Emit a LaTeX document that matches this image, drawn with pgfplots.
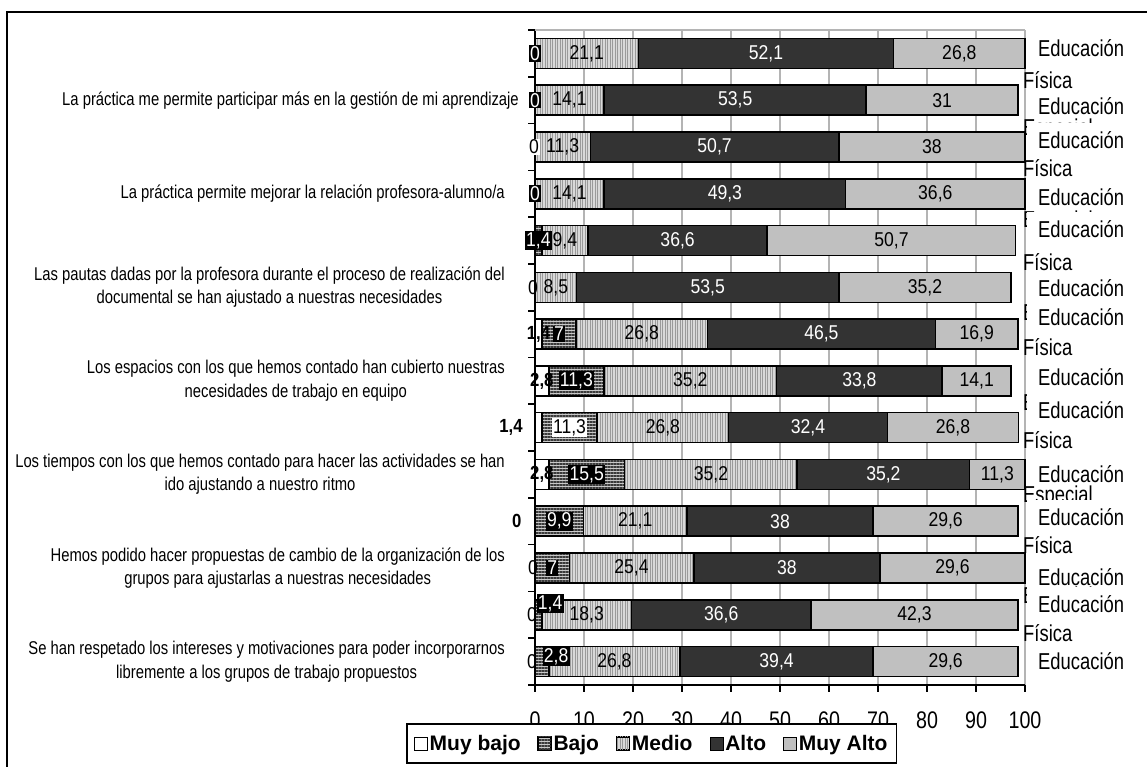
\documentclass[border=0pt]{standalone}
\usepackage{pgfplots}
\usepackage{pgfplotstable}
\pgfplotsset{compat=1.18}
\usetikzlibrary{patterns.meta}
\usepackage{fontspec}
\setmainfont{Liberation Sans}
\newfontfamily\condfont[FakeStretch=0.8]{Liberation Sans}
\newfontfamily\rightfont[FakeStretch=0.8]{Liberation Sans}
\newfontfamily\tickfont[FakeStretch=0.82]{Liberation Sans}
\newfontfamily\valfont[FakeStretch=0.88]{Liberation Sans}

\definecolor{alto}{HTML}{333333}
\definecolor{muyalto}{HTML}{C0C0C0}
\definecolor{gridgray}{HTML}{B4B4B4}
\definecolor{medfill}{HTML}{D9D9D9}
\definecolor{medline}{HTML}{9A9A9A}
\definecolor{bajfill}{HTML}{C8C8C8}
\definecolor{bajline}{HTML}{3A3A3A}

% percentages per row: Muy bajo, Bajo, Medio, Alto, Muy Alto (row 14 = top bar)
\pgfplotstableread{
y  mb   b    m    a    ma
14 0    0    21.1 52.1 26.8
13 0    0    14.1 53.5 31
12 0    0    11.3 50.7 38
11 0    0    14.1 49.3 36.6
10 0    1.4  9.4  36.6 50.7
9  0    0    8.5  53.5 35.2
8  1.4  7    26.8 46.5 16.9
7  2.8  11.3 35.2 33.8 14.1
6  1.4  11.3 26.8 32.4 26.8
5  2.8  15.5 35.2 35.2 11.3
4  0    9.9  21.1 38   29.6
3  0    7    25.4 38   29.6
2  0    1.4  18.3 36.6 42.3
1  0    2.8  26.8 39.4 29.6
}\datatable

\tikzset{
  vlab/.style={font=\valfont\fontsize{20}{20}\selectfont, inner sep=1.2pt},
  blk/.style={fill=black, text=white},
  wbx/.style={fill=white},
  wt/.style={text=white},
  bf/.style={font=\valfont\bfseries\fontsize{19}{19}\selectfont},
  stmt/.style={font=\condfont\fontsize{18.5}{23.5}\selectfont, align=center, anchor=east, inner sep=0pt},
  rlab/.style={font=\rightfont\fontsize{23}{23}\selectfont, inner sep=0pt, anchor=west},
}
% value label centred on a segment
\newcommand\vl[4][]{\node[vlab,#1] at (axis cs:#2,#3) {#4};}
% group label on the right: bar y, shift of first line, second line, its shift
\newcommand\rlab[4]{%
  \node[fill=white, inner sep=0pt, anchor=north west, minimum width=120pt,
        minimum height={(#2-#4+29)*1pt}, xshift=1.5pt, yshift={(#2+17)*1pt}] at (axis cs:100,#1) {};
  \node[rlab, xshift=13pt, yshift=#2pt] at (axis cs:100,#1) {Educación};
  \node[rlab, xshift=-2pt, yshift=#4pt] at (axis cs:100,#1) {#3};
}

% texts drawn on top of the bars
\newcommand\annotations{%
% statements
\node[stmt, xshift=-16pt] at (axis cs:0,13) {La práctica me permite participar más en la gestión de mi aprendizaje};
\node[stmt, xshift=-30pt] at (axis cs:0,11) {La práctica permite mejorar la relación profesora-alumno/a};
\node[stmt, xshift=-30pt] at (axis cs:0,9) {Las pautas dadas por la profesora durante el proceso de realización del\\documental se han ajustado a nuestras necesidades};
\node[stmt, xshift=-30pt] at (axis cs:0,7) {Los espacios con los que hemos contado han cubierto nuestras\\necesidades de trabajo en equipo};
\node[stmt, xshift=-30pt] at (axis cs:0,5) {Los tiempos con los que hemos contado para hacer las actividades se han\\ido ajustando a nuestro ritmo};
\node[stmt, xshift=-30pt] at (axis cs:0,3) {Hemos podido hacer propuestas de cambio de la organización de los\\grupos para ajustarlas a nuestras necesidades};
\node[stmt, xshift=-30pt] at (axis cs:0,1) {Se han respetado los intereses y motivaciones para poder incorporarnos\\libremente a los grupos de trabajo propuestos};
% value labels
\vl[blk]{0}{14}{0} \vl{10.55}{14}{21,1} \vl[wt]{47.15}{14}{52,1} \vl{86.6}{14}{26,8}
\vl[blk]{0}{13}{0} \vl{7.05}{13}{14,1} \vl[wt]{40.85}{13}{53,5} \vl{83.1}{13}{31}
\vl[wbx]{-0.2}{12}{0} \vl{5.65}{12}{11,3} \vl[wt]{36.65}{12}{50,7} \vl{81}{12}{38}
\vl[blk]{0}{11}{0} \vl{7.05}{11}{14,1} \vl[wt]{38.75}{11}{49,3} \vl{81.7}{11}{36,6}
\vl[blk]{0.7}{10}{1,4} \vl{6.1}{10}{9,4} \vl[wt]{29.1}{10}{36,6} \vl{72.75}{10}{50,7}
\vl{-0.4}{9}{0} \vl{4.25}{9}{8,5} \vl[wt]{35.25}{9}{53,5} \vl{79.6}{9}{35,2}
\vl[bf]{0.7}{8}{1,4} \vl[blk]{4.9}{8}{7} \vl{21.8}{8}{26,8} \vl[wt]{58.45}{8}{46,5} \vl{90.15}{8}{16,9}
\vl[bf]{1.4}{7}{2,8} \vl[blk]{8.45}{7}{11,3} \vl{31.7}{7}{35,2} \vl[wt]{66.2}{7}{33,8} \vl{90.15}{7}{14,1}
\vl[bf]{-4.9}{6}{1,4} \vl[wbx]{7.05}{6}{11,3} \vl{26.1}{6}{26,8} \vl[wt]{55.7}{6}{32,4} \vl{85.3}{6}{26,8}
\vl[bf]{1.4}{5}{2,8} \vl[blk]{10.55}{5}{15,5} \vl{35.9}{5}{35,2} \vl[wt]{71.1}{5}{35,2} \vl{94.35}{5}{11,3}
\vl[bf]{-3.7}{4}{0} \vl[blk]{4.95}{4}{9,9} \vl{20.45}{4}{21,1} \vl[wt]{50}{4}{38} \vl{83.8}{4}{29,6}
\vl{-0.4}{3}{0} \vl[blk]{3.5}{3}{7} \vl{19.7}{3}{25,4} \vl[wt]{51.4}{3}{38} \vl{85.2}{3}{29,6}
\vl{-0.6}{2}{0} \vl[blk,yshift=11pt]{3.1}{2}{1,4} \vl{10.55}{2}{18,3} \vl[wt]{38}{2}{36,6} \vl{77.45}{2}{42,3}
\vl{-0.6}{1}{0} \vl[blk,yshift=5pt]{4.3}{1}{2,8} \vl{16.2}{1}{26,8} \vl[wt]{49.3}{1}{39,4} \vl{83.8}{1}{29,6}
% group labels on the right
\rlab{13}{-5.8}{Especial}{-29.8}
\rlab{11}{-3.2}{Especial}{-28.2}
\rlab{9}{-0.6}{Especial}{-27.6}
\rlab{7}{3.9}{Especial}{-24.1}
\rlab{5}{0.5}{Especial}{-22.5}
\rlab{3}{-8.9}{Especial}{-29.9}
\rlab{1}{0.6}{}{-24}
\rlab{14}{5.4}{Física}{-26.6}
\rlab{12}{7}{Física}{-21}
\rlab{10}{11.6}{Física}{-21.4}
\rlab{8}{17.1}{Física}{-12.9}
\rlab{6}{17.7}{Física}{-12.3}
\rlab{4}{4.3}{Física}{-23.7}
\rlab{2}{10.9}{Física}{-18.1}
}

\begin{document}
\begin{tikzpicture}[x=1pt,y=1pt]
\path[use as bounding box] (0,0) rectangle (1147,767);
\begin{axis}[
  at={(535pt,82pt)}, anchor=south west,
  width=490pt, height=655pt, scale only axis,
  xbar stacked, bar width=30pt,
  xmin=0, xmax=100, ymin=0.5, ymax=14.5,
  enlargelimits=false, clip=false,
  axis x line*=bottom, axis y line*=left,
  axis line style={line width=1.6pt},
  xtick={0,10,...,100}, ytick={0.5,1.5,...,14.5}, yticklabels={},
  tick align=outside, major tick length=7pt,
  tick style={black, line width=1.6pt},
  xmajorgrids, major grid style={gridgray, line width=1.5pt},
  x tick label style={font=\tickfont\fontsize{24}{24}\selectfont, anchor=center, yshift=-28pt},
  /pgf/number format/assume math mode=true,
  legend style={at={(-0.263,-0.0585)}, anchor=north west, legend columns=-1,
    draw=black, line width=1.6pt, fill=white,
    font=\bfseries\fontsize{21}{21}\selectfont, inner xsep=7pt, inner ysep=9pt,
    /tikz/every even column/.append style={column sep=15pt}},
  legend image code/.code={\draw[#1, line width=0.8pt] (0pt,-6.5pt) rectangle (13pt,6.5pt);},
  after end axis/.code={\annotations},
]
\addplot[draw=black, line width=1.6pt, fill=white] table[x=mb, y=y] \datatable;
\addplot[draw=black, line width=1.6pt, preaction={fill=bajfill}, pattern color=bajline,
  pattern={Lines[angle=0, distance=3pt, line width=1.4pt]}] table[x=b, y=y] \datatable;
\addplot[draw=black, line width=1.6pt, preaction={fill=medfill}, pattern color=medline,
  pattern={Lines[angle=90, distance=2.5pt, line width=0.8pt]}] table[x=m, y=y] \datatable;
\addplot[draw=black, line width=1.6pt, fill=alto] table[x=a, y=y] \datatable;
\addplot[draw=black, line width=1.6pt, fill=muyalto] table[x=ma, y=y] \datatable;
\legend{Muy bajo, Bajo, Medio, Alto, Muy Alto}

% plot area frame (top edge)
\draw[gridgray, line width=1.5pt] (rel axis cs:0,1) -- (rel axis cs:1,1);
\end{axis}
% outer chart frame
\draw[line width=2pt] (7,0) -- (7,755) -- (1147,755);
\end{tikzpicture}
\end{document}
